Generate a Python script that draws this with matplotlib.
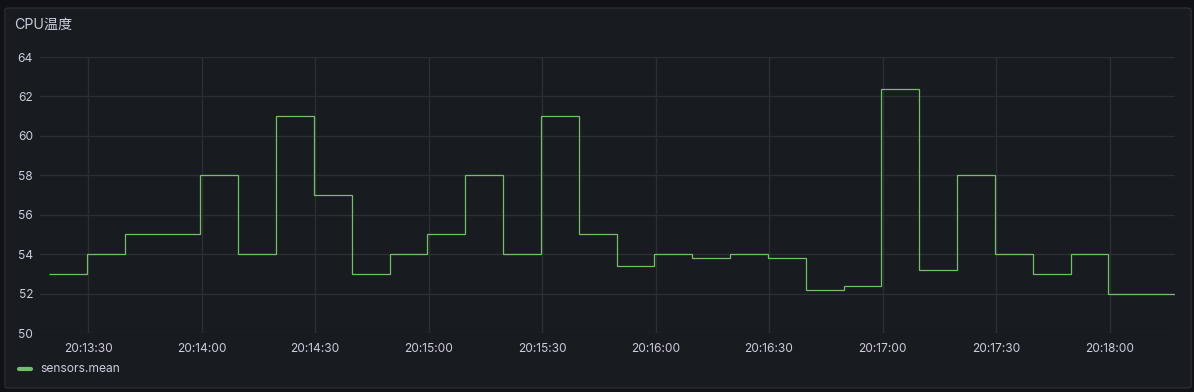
import pandas as pd
import matplotlib
matplotlib.use("Agg")
import matplotlib.pyplot as plt
import matplotlib.dates as mdates
from matplotlib.patches import FancyBboxPatch
from matplotlib.lines import Line2D

plt.rcParams['font.family'] = ['Inter', 'Noto Sans CJK SC', 'DejaVu Sans']

# step start times (every 10 s) and CPU temperature values
start_time = "2024-01-01 20:13:19.7"
end_time = "2024-01-01 20:18:17.3"
temps = [53, 54, 55, 55, 58, 54, 61, 57, 53, 54,
         55, 58, 54, 61, 55, 53.4, 54, 53.8, 54, 53.8,
         52.2, 52.4, 62.4, 53.2, 58, 54, 53, 54, 52, 52]
x_start = "2024-01-01 20:13:17.3"
y_ticks = [50, 52, 54, 56, 58, 60, 62, 64]

W, H = 1194, 392
BG = "#111217"
PANEL = "#181b1f"
TEXT = "#ccccdc"
GRID = "#2b2e33"
GREEN = "#73bf69"

times = pd.date_range(start_time, periods=len(temps), freq="10s")
edges = list(mdates.date2num(times)) + [mdates.date2num(pd.Timestamp(end_time))]

fig = plt.figure(figsize=(W / 100, H / 100), dpi=100, facecolor=BG)

# panel background
panel = FancyBboxPatch((5 / W, 4 / H), 1186 / W, 380 / H,
                       boxstyle="round,pad=0,rounding_size=0.004",
                       transform=fig.transFigure, facecolor=PANEL,
                       edgecolor="#2a2c31", linewidth=1, zorder=-10)
fig.patches.append(panel)

fig.text(14 / W, 1 - 25 / H, "CPU温度", color=TEXT, fontsize=10.2,
         va="center", ha="left")

ax = fig.add_axes([40 / W, (H - 333) / H, (1175 - 40) / W, (333 - 57) / H])
ax.set_facecolor("none")
ax.stairs(temps, edges, baseline=None, color=GREEN, linewidth=0.9)

ax.set_xlim(mdates.date2num(pd.Timestamp(x_start)), edges[-1])
ax.set_ylim(50, 64)
ax.set_yticks(y_ticks)
ax.xaxis.set_major_locator(mdates.SecondLocator(bysecond=[0, 30]))
ax.xaxis.set_major_formatter(mdates.DateFormatter("%H:%M:%S"))

ax.grid(True, color=GRID, linewidth=1)
ax.set_axisbelow(True)
for s in ax.spines.values():
    s.set_visible(False)
ax.tick_params(axis="both", length=0, colors=TEXT, labelsize=8.6)
ax.tick_params(axis="y", pad=5)
ax.tick_params(axis="x", pad=7)

# legend
fig.add_artist(Line2D([19 / W, 31 / W], [1 - 369 / H, 1 - 369 / H],
                      transform=fig.transFigure, color=GREEN, linewidth=3,
                      solid_capstyle="round"))
fig.text(40 / W, 1 - 369 / H, "sensors.mean", color=TEXT, fontsize=8.7,
         va="center", ha="left")

fig.savefig("out.png", dpi=100, facecolor=BG)
